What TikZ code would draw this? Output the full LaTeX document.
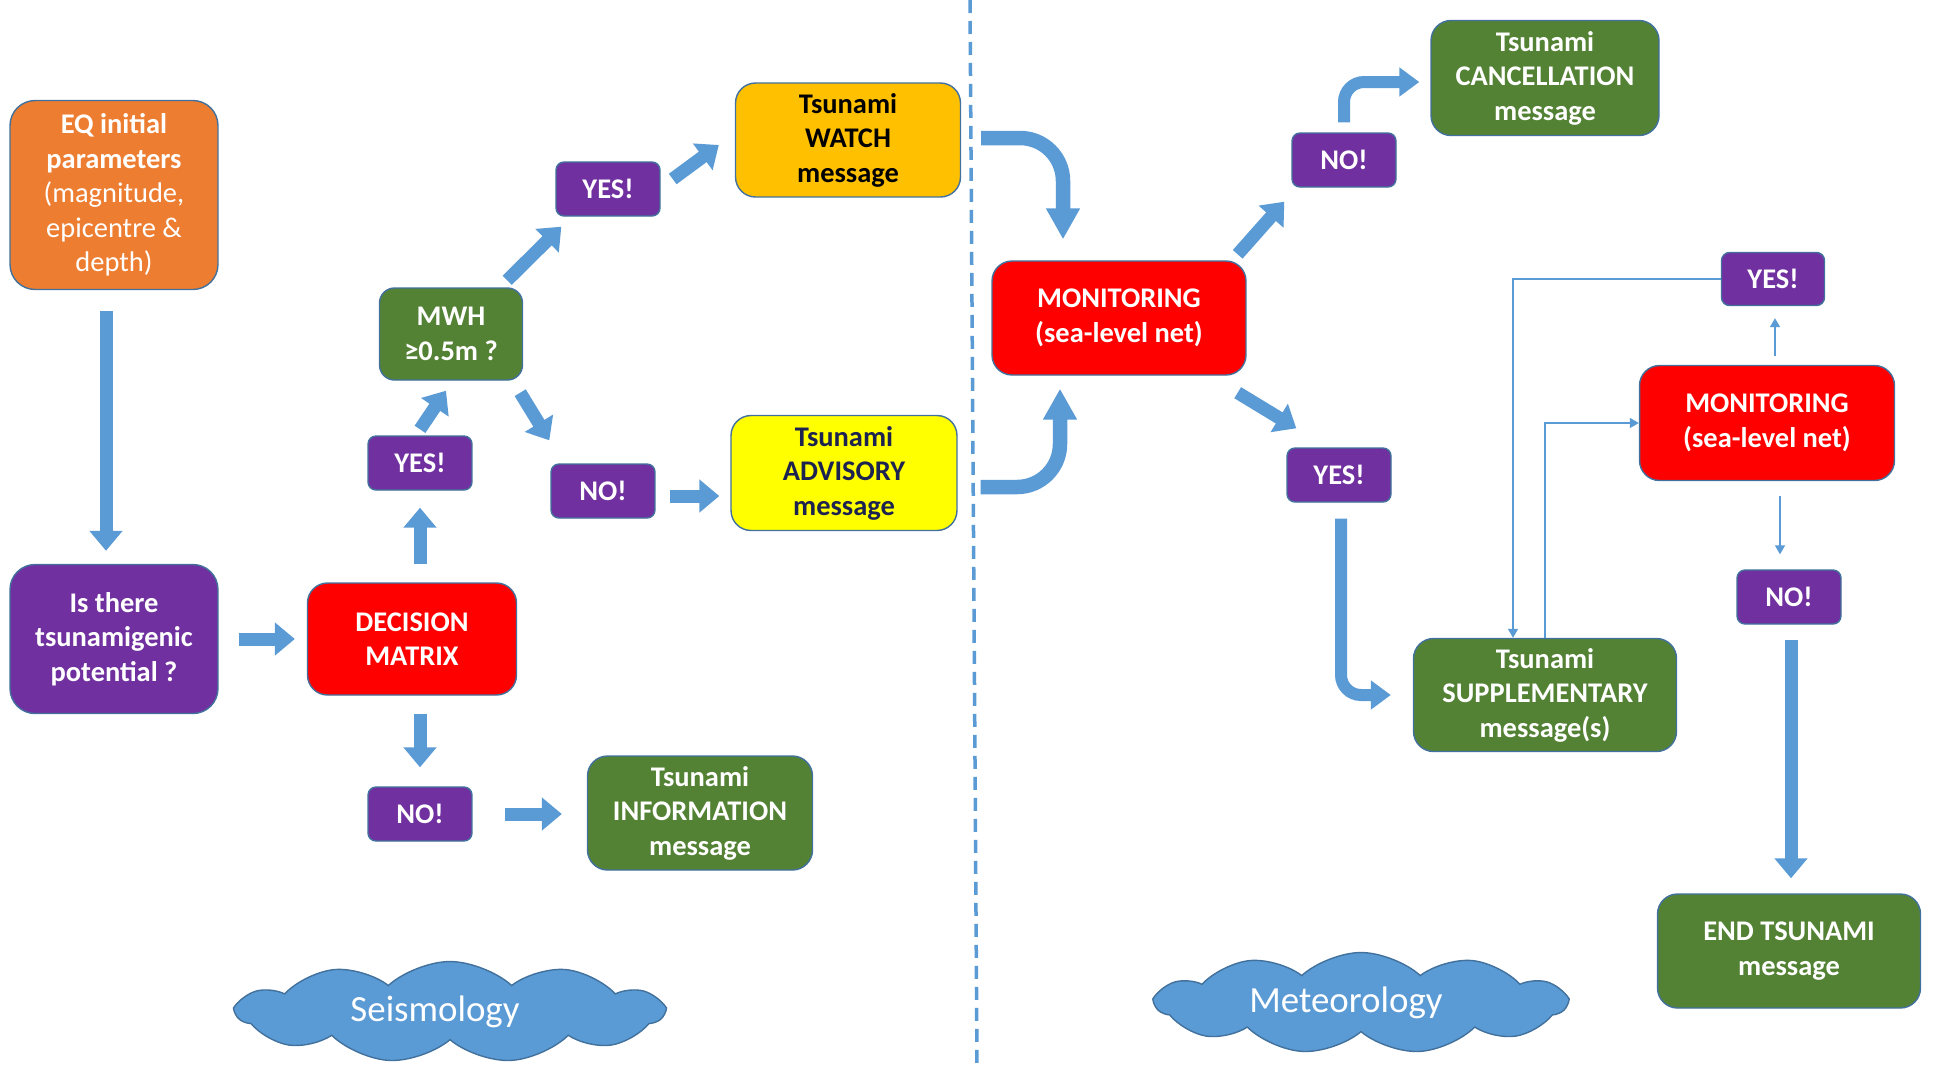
\documentclass[tikz,border=0pt]{standalone}
\usepackage{fontspec}
\setmainfont{Carlito}
\usetikzlibrary{arrows.meta,shapes.symbols,calc}
\definecolor{orng}{HTML}{ED7D31}
\definecolor{purp}{HTML}{7030A0}
\definecolor{redb}{HTML}{FF0000}
\definecolor{grn}{HTML}{548235}
\definecolor{gold}{HTML}{FFC000}
\definecolor{yel}{HTML}{FFFF00}
\definecolor{blu}{HTML}{5B9BD5}
\definecolor{edgec}{HTML}{41719C}
\definecolor{navy}{HTML}{1C2350}
\begin{document}
\begin{tikzpicture}[x=0.02cm,y=-0.02cm,
 box/.style={draw=edgec, line width=0.8pt, rounded corners=0.4cm, align=center, text=white, font=\fontsize{16.2}{19.6}\selectfont\bfseries, inner sep=0pt},
 tag/.style={box, fill=purp, rounded corners=0.16cm, minimum width=2.08cm, minimum height=1.08cm},
 big/.style={box, minimum width=4.5cm, minimum height=2.28cm},
 blk/.style={draw=blu, line width=0.26cm, -{Triangle[width=0.64cm,length=0.4cm]}},
 curvy/.style={draw=blu, line width=0.29cm, rounded corners=0.86cm, -{Triangle[width=0.64cm,length=0.62cm]}},
 bent/.style={draw=blu, line width=0.24cm, rounded corners=0.4cm, -{Triangle[width=0.56cm,length=0.4cm]}},
 thin/.style={draw=blu, line width=0.8pt, -{Triangle[width=0.2cm,length=0.18cm]}},
 cld/.style={cloud, cloud puffs=11, cloud puff arc=85, cloud ignores aspect, fill=blu, draw=edgec, line width=0.8pt, text=white, font=\fontsize{21}{25}\selectfont},
]
\useasboundingbox (0,0) rectangle (1933,1066);
\fill[white] (0,0) rectangle (1933,1066);

% divider
\draw[blu, line width=0.07cm, dash pattern=on 0.26cm off 0.16cm] (970,0) -- (977,1066);

% nodes
\node[box, fill=orng, rounded corners=0.5cm, minimum width=4.16cm, minimum height=3.78cm] (eq) at (114,195)
  {EQ initial\\parameters\\\mdseries(magnitude,\\\mdseries epicentre \&\\\mdseries depth)};
\node[box, fill=purp, rounded corners=0.5cm, minimum width=4.16cm, minimum height=2.98cm] (q) at (114,639)
  {Is there\\tsunamigenic\\potential ?};
\node[box, fill=redb, minimum width=4.18cm, minimum height=2.24cm] (dm) at (412,639) {DECISION\\MATRIX};
\node[tag] (yes1) at (420,463) {YES!};
\node[box, fill=grn, rounded corners=0.3cm, minimum width=2.86cm, minimum height=1.84cm] (mwh) at (451,334) {MWH\\≥0.5m ?};
\node[tag] (yes2) at (608,189) {YES!};
\node[tag] (no1) at (603,491) {NO!};
\node[big, fill=gold, text=black] (watch) at (848,140) {Tsunami\\WATCH\\message};
\node[big, fill=yel, text=navy, minimum width=4.52cm, minimum height=2.3cm] (adv) at (844,473) {Tsunami\\ADVISORY\\message};
\node[tag] (no2) at (420,814) {NO!};
\node[big, fill=grn] (info) at (700,813) {Tsunami\\INFORMATION\\message};
\node[big, fill=redb, minimum width=5.08cm] (mon1) at (1119,318) {MONITORING\\(sea-level net)};
\node[tag] (no3) at (1344,160) {NO!};
\node[big, fill=grn, minimum width=4.56cm, minimum height=2.3cm] (canc) at (1545,78) {Tsunami\\CANCELLATION\\message};
\node[tag] (yes3) at (1339,475) {YES!};
\node[tag, minimum width=2.06cm, minimum height=1.06cm] (yes4) at (1773,279) {YES!};
\node[big, fill=redb, minimum width=5.1cm, minimum height=2.3cm] (mon2) at (1767,423) {MONITORING\\(sea-level net)};
\node[tag] (no4) at (1789,597) {NO!};
\node[big, fill=grn, minimum width=5.26cm, minimum height=2.26cm] (sup) at (1545,695) {Tsunami\\SUPPLEMENTARY\\message(s)};
\node[big, fill=grn, minimum width=5.26cm] (endm) at (1789,951) {END TSUNAMI\\message};

\node[cld, minimum width=8.52cm, minimum height=2.02cm] (seis) at (450,1012) {\hspace*{-0.6cm}Seismology};
\node[cld, minimum width=8.2cm, minimum height=2.02cm] (met) at (1361,1003) {\hspace*{-0.6cm}Meteorology};

% block arrows
\draw[blk] ($(eq.south)+(-8,21)$) -- ($(q.north)+(-8,-13)$);
\draw[blk] ($(q.east)+(20,0)$) -- ($(dm.west)+(-12,0)$);
\draw[blk] ($(dm.north)+(8,-18)$) -- ($(yes1.south)+(0,17)$);
\draw[blk] ($(yes1.north)+(0,-6)$) -- ($(mwh.south)+(-5,10)$);
\draw[blk] ($(mwh.north east)+(-16,-7)$) -- ($(yes2.south west)+(6,10)$);
\draw[blk] ($(yes2.east)+(12,-10)$) -- ($(watch.west)+(-16,5)$);
\draw[blk] ($(mwh.south east)+(-3,12)$) -- ($(no1.north west)+(-1,-23)$);
\draw[blk] ($(no1.east)+(14,5)$) -- ($(adv.west)+(-11,23)$);
\draw[blk] ($(dm.south)+(8,18)$) -- ($(no2.north)+(0,-19)$);
\draw[blk] ($(no2.east)+(32,0)$) -- ($(info.west)+(-25,1)$);
\draw[curvy] ($(watch.east)+(20,-2)$) -| ($(mon1.north)+(-56,-21)$);
\draw[curvy] ($(adv.east)+(23,14)$) -| ($(mon1.south)+(-59,13)$);
\draw[blk] ($(mon1.north east)+(-9,-6)$) -- ($(no3.south west)+(-7,14)$);
\draw[bent] ($(no3.north)+(0,-10)$) |- ($(canc.west)+(-11,4)$);
\draw[blk] ($(mon1.south east)+(-9,17)$) -- ($(yes3.north west)+(10,-19)$);
\draw[bent] ($(yes3.south)+(2,16)$) |- ($(sup.west)+(-22,0)$);
\draw[blk] ($(no4.south)+(2,15)$) -- ($(endm.north)+(2,-15)$);

% thin connectors
\draw[thin] ($(mon2.north)+(8,-9)$) -- ($(yes4.south)+(2,12)$);
\draw[thin] ($(mon2.south)+(13,15)$) -- ($(no4.north)+(-9,-15)$);
\draw[thin] (yes4.west) -| ($(sup.north)+(-32,0)$);
\draw[thin] (sup.north) |- (mon2.west);
\end{tikzpicture}
\end{document}
